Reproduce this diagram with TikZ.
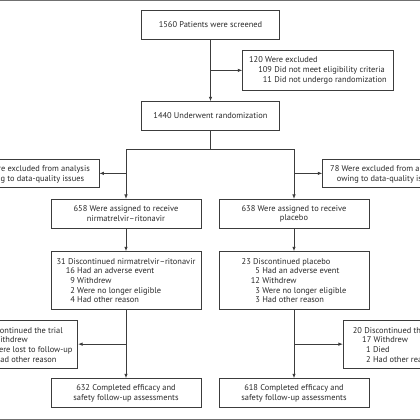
\documentclass[tikz,border=0pt]{standalone}
\usepackage{fontspec}
\setmainfont{PT Sans}
\usetikzlibrary{arrows.meta}
\definecolor{linecol}{HTML}{3C3C3C}
\definecolor{txtcol}{HTML}{2A2A2A}
\definecolor{rulecol}{HTML}{707070}
\newcommand\boxfont{\fontsize{8.4}{9.7}\selectfont}
\tikzset{
  box/.style={draw=linecol, line width=0.8pt, fill=white, text=txtcol, align=left, inner sep=0pt, font=\boxfont},
  txt/.style={text=txtcol, inner sep=0pt, font=\boxfont},
  arr/.style={draw=linecol, line width=0.8pt, -{Latex[length=4.5pt,width=3.5pt]}},
  ln/.style={draw=linecol, line width=0.8pt, line cap=rect},
}
\begin{document}
\begin{tikzpicture}[x=1pt,y=-1pt]
\useasboundingbox (0,0) rectangle (420,420);
\clip (0,0) rectangle (420,420);
\fill[white] (0,0) rectangle (420,420);
\fill[rulecol] (0,0) rectangle (420,1.4);
\fill[rulecol] (0,418.6) rectangle (420,420);

\node[box, minimum width=137.6pt, minimum height=28.6pt] (scr) at (210.5,25) {1560 Patients were screened};
\node[box, minimum width=150.6pt, minimum height=39.3pt] (exc) at (318,70.35)
  {120 Were excluded\\\hphantom{00}109 Did not meet eligibility criteria\\\hphantom{000}11 Did not undergo randomization};
\node[box, minimum width=137.6pt, minimum height=28.3pt] (rand) at (210.5,115.85) {1440 Underwent randomization};
\coordinate (split) at (210.5,149);

\node[box, minimum width=160pt, minimum height=28.7pt] (exA) at (19,173.35) {};
\node[txt, anchor=base east] (exA1) at (90,171.8) {Were excluded from analysis};
\node[txt, anchor=base east] (exA2) at (84.3,181.1) {owing to data-quality issues};
\node[box, minimum width=160pt, minimum height=28.7pt] (exB) at (402.7,173.35) {};
\node[txt, anchor=base west] (exB1) at (330,171.8) {78 Were excluded from analysis};
\node[txt, anchor=base west] (exB2) at (336.7,181.1) {owing to data-quality issues};

\node[box, align=center, minimum width=150pt, minimum height=29pt] (nirA) at (126,213.8) {658 Were assigned to receive\\nirmatrelvir–ritonavir};
\node[box, align=center, minimum width=150pt, minimum height=29pt] (plaA) at (294,213.8) {638 Were assigned to receive\\placebo};

\node[box, minimum width=150pt, minimum height=57.6pt] (discA) at (126,280.5)
  {31 Discontinued nirmatrelvir–ritonavir\\\hphantom{00}16 Had an adverse event\\\hphantom{000}9 Withdrew\\\hphantom{000}2 Were no longer eligible\\\hphantom{000}4 Had other reason};
\node[box, minimum width=150pt, minimum height=57.6pt] (discB) at (294,280.5)
  {23 Discontinued placebo\\\hphantom{000}5 Had an adverse event\\\hphantom{00}12 Withdrew\\\hphantom{000}3 Were no longer eligible\\\hphantom{000}3 Had other reason};

\node[box, minimum width=160pt, minimum height=48.3pt] (dcA) at (-2.3,344.15) {};
\node[txt, anchor=base east] (dcA1) at (63,333.5) {Discontinued the trial};
\node[txt, anchor=base east] (dcA2) at (28,342.8) {Withdrew};
\node[txt, anchor=base east] (dcA3) at (72.7,352.8) {Were lost to follow-up};
\node[txt, anchor=base east] (dcA4) at (56.7,362.1) {Had other reason};
\node[box, minimum width=160pt, minimum height=48.3pt] (dcB) at (423.3,344.15) {};
\node[txt, anchor=base west] (dcB1) at (352.7,333.5) {20 Discontinued the trial};
\node[txt, anchor=base west] (dcB2) at (362,342.8) {17 Withdrew};
\node[txt, anchor=base west] (dcB3) at (366,352.8) {1 Died};
\node[txt, anchor=base west] (dcB4) at (366,362.1) {2 Had other reason};

\node[box, align=center, minimum width=150pt, minimum height=29pt] (compA) at (126,393.2) {632 Completed efficacy and\\safety follow-up assessments};
\node[box, align=center, minimum width=150pt, minimum height=29pt] (compB) at (294,393.2) {618 Completed efficacy and\\safety follow-up assessments};

\draw[arr] (scr) -- (rand);
\draw[arr] (scr.south |- exc.west) -- (exc.west);
\draw[ln] (rand.south) -- (split);
\draw[ln] (nirA.north |- split) -- (plaA.north |- split);
\draw[arr] (nirA.north |- split) -- (nirA.north);
\draw[arr] (plaA.north |- split) -- (plaA.north);
\draw[arr] (nirA.north |- exA.east) -- (exA.east);
\draw[arr] (plaA.north |- exB.west) -- (exB.west);
\draw[arr] (nirA) -- (discA);
\draw[arr] (plaA) -- (discB);
\draw[arr] (discA) -- (compA);
\draw[arr] (discB) -- (compB);
\draw[arr] (discA.south |- dcA.east) -- (dcA.east);
\draw[arr] (discB.south |- dcB.west) -- (dcB.west);
\end{tikzpicture}
\end{document}
